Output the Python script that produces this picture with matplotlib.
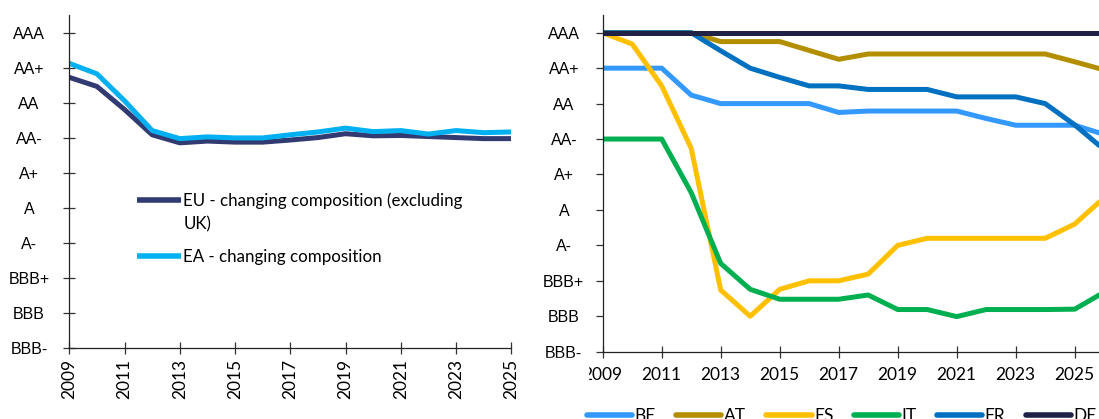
import matplotlib.pyplot as plt
from matplotlib.patches import Rectangle
import numpy as np

# rating scale: BBB- = 0 ... AAA = 9
ratings = ['BBB-', 'BBB', 'BBB+', 'A-', 'A', 'A+', 'AA-', 'AA', 'AA+', 'AAA']

years_agg = list(range(2009, 2026))
eu = [7.72, 7.46, 6.80, 6.08, 5.85, 5.90, 5.87, 5.87, 5.93, 6.00, 6.11, 6.05, 6.06, 6.03, 6.00, 5.97, 5.97]
ea = [8.12, 7.82, 7.05, 6.20, 5.97, 6.02, 5.99, 5.99, 6.08, 6.16, 6.27, 6.17, 6.20, 6.10, 6.20, 6.14, 6.16]

years_cty = list(range(2009, 2027))
be = [8, 8, 8, 7.24, 7, 7, 7, 7, 6.75, 6.79, 6.79, 6.79, 6.79, 6.58, 6.39, 6.39, 6.39, 6.13]
at = [9, 9, 9, 9, 8.75, 8.75, 8.75, 8.5, 8.25, 8.4, 8.4, 8.4, 8.4, 8.4, 8.4, 8.4, 8.18, 7.95]
es = [9, 8.68, 7.5, 5.74, 1.74, 1.0, 1.76, 2.0, 2.0, 2.19, 3.0, 3.2, 3.2, 3.2, 3.2, 3.2, 3.6, 4.35]
it = [6, 6, 6, 4.49, 2.49, 1.76, 1.48, 1.48, 1.48, 1.6, 1.19, 1.19, 0.99, 1.19, 1.19, 1.19, 1.2, 1.68]
fr = [9, 9, 9, 9, 8.49, 8.0, 7.74, 7.5, 7.5, 7.4, 7.4, 7.4, 7.19, 7.19, 7.19, 7.0, 6.4, 5.7]
de = [9] * 18

W, H = 1099, 419
body = 'Lato'
fig = plt.figure(figsize=(W / 100, H / 100), dpi=100)

# ---- left panel: aggregates
ax1 = fig.add_axes([69.3 / W, 1 - 347.7 / H, 442 / W, 332.7 / H])
ax1.plot(years_agg, eu, color='#323A72', lw=3.6, solid_capstyle='butt', label='EU - changing composition (excluding')
ax1.plot(years_agg, ea, color='#00B0F0', lw=3.6, solid_capstyle='butt', label='EA - changing composition')
ax1.set_xlim(2009, 2025)
ax1.set_ylim(0, 9.5)
ax1.set_xticks(range(2009, 2026, 2))
ax1.set_xticklabels([str(y) for y in range(2009, 2026, 2)], rotation=90, family=body, fontsize=12.5)
ax1.set_yticks(range(10))
ax1.set_yticklabels(ratings, family='Liberation Sans', fontsize=11.5)
ax1.tick_params(axis='y', direction='inout', length=8, width=0.9, pad=25, color='#333333')
ax1.tick_params(axis='x', direction='inout', length=8, width=0.9, pad=4, color='#333333')
for lab in ax1.get_yticklabels():
    lab.set_horizontalalignment('center')

leg1 = ax1.legend(loc='upper left', bbox_to_anchor=(136.7 / W, 1 - 192 / H), bbox_transform=fig.transFigure,
                  frameon=False, borderpad=0, borderaxespad=0, handlelength=2.6, handletextpad=0.15,
                  labelspacing=2.4, prop={'family': body, 'size': 12.2})
for h in leg1.get_lines():
    h.set_linewidth(4)
ax1.annotate('UK)', xy=(0, 0.5), xycoords=leg1.get_texts()[0], xytext=(0, -17.5), textcoords='offset points',
             ha='left', va='center', family=body, fontsize=12.2, zorder=10)

# ---- right panel: countries
ax2 = fig.add_axes([602.7 / W, 1 - 351.7 / H, 531 / W, 336.7 / H])
for vals, col, name in [(be, '#3399FF', 'BE'), (at, '#B38F00', 'AT'), (es, '#FFC000', 'ES'),
                        (it, '#00B050', 'IT'), (fr, '#0070C0', 'FR'), (de, '#1F2147', 'DE')]:
    ax2.plot(years_cty, vals, color=col, lw=3.6, solid_capstyle='butt', label=name)
ax2.set_xlim(2009, 2027)
ax2.set_ylim(0, 9.5)
ax2.set_xticks(range(2009, 2026, 2))
ax2.set_xticklabels([str(y) for y in range(2009, 2026, 2)], family=body, fontsize=12.5)
ax2.set_yticks(range(10))
ax2.set_yticklabels(ratings, family='Liberation Sans', fontsize=11.5)
ax2.tick_params(axis='y', direction='out', length=5, width=0.9, pad=23, color='#333333')
ax2.tick_params(axis='x', direction='inout', length=8, width=0.9, pad=7, color='#333333')
for lab in ax2.get_yticklabels():
    lab.set_horizontalalignment('center')

leg2 = ax2.legend(loc='center left', bbox_to_anchor=(587 / W, 1 - 416 / H), bbox_transform=fig.transFigure,
                  ncol=6, frameon=False, borderpad=0, borderaxespad=0, handlelength=2.6, handletextpad=0.15,
                  columnspacing=1.17, prop={'family': body, 'size': 12.5})
for h in leg2.get_lines():
    h.set_linewidth(4)
    h.set_solid_capstyle('round')

for ax in (ax1, ax2):
    for s in ('top', 'right'):
        ax.spines[s].set_visible(False)
    for s in ('left', 'bottom'):
        ax.spines[s].set_linewidth(0.9)
        ax.spines[s].set_color('#222222')

# the source image cuts the first year label of the right panel
fig.add_artist(Rectangle((540 / W, 1 - 398 / H), 48.3 / W, 40 / H, transform=fig.transFigure,
                         color='white', zorder=10))

fig.savefig('out.png', dpi=100, facecolor='white')
